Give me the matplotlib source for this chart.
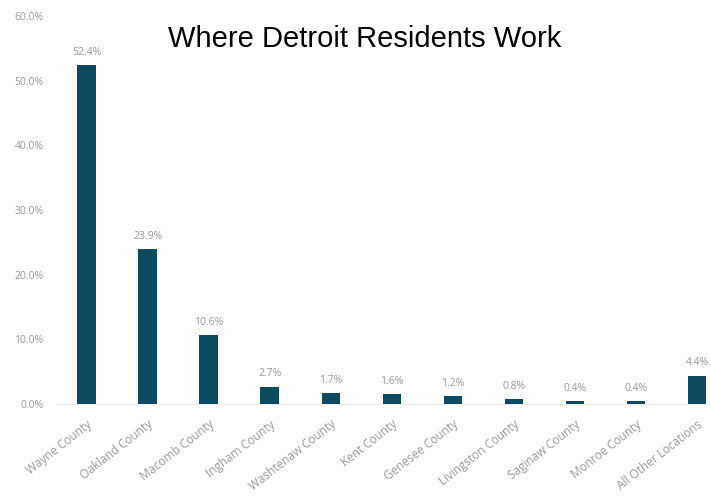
import numpy as np
import matplotlib
matplotlib.use("Agg")
from matplotlib import pyplot as plt

categories = ["Wayne County", "Oakland County", "Macomb County", "Ingham County",
              "Washtenaw County", "Kent County", "Genesee County", "Livingston County",
              "Saginaw County", "Monroe County", "All Other Locations"]
shares = [52.4, 23.9, 10.6, 2.7, 1.7, 1.6, 1.2, 0.8, 0.4, 0.4, 4.4]
yticks = [0, 10, 20, 30, 40, 50, 60]

BAR = "#0c4a62"
GREY = "#999999"

fig = plt.figure(figsize=(7.11, 4.99), dpi=100)
ax = fig.add_axes([56 / 711, 1 - 404 / 499, 1 - 56 / 711, (404 - 16) / 499])

x = np.arange(len(categories))
ax.bar(x, shares, width=0.3, color=BAR, zorder=3)

for xi, v in zip(x, shares):
    ax.text(xi, v + 1.1, "%.1f%%" % v, ha="center", va="bottom",
            fontsize=7.5, color=GREY, family="Open Sans")

ax.set_ylim(0, 60)
ax.set_xlim(-0.5, 10.23)
ax.set_yticks(yticks)
ax.set_yticklabels(["%.1f%%" % t for t in yticks], fontsize=7.5, color=GREY,
                   family="Open Sans")
ax.set_xticks(x)
ax.set_xticklabels(categories, rotation=38, ha="right", rotation_mode="anchor",
                   fontsize=8.5, color=GREY, family="Open Sans")
ax.tick_params(length=0)
ax.tick_params(axis="x", pad=10)
ax.tick_params(axis="y", pad=9)

for s in ["top", "right", "left"]:
    ax.spines[s].set_visible(False)
ax.spines["bottom"].set_color("#eeeeee")

fig.text(365 / 711, 1 - 39 / 499, "Where Detroit Residents Work", ha="center",
         va="center", fontsize=21, family="Liberation Sans", color="black")

fig.savefig("out.png", dpi=100)
